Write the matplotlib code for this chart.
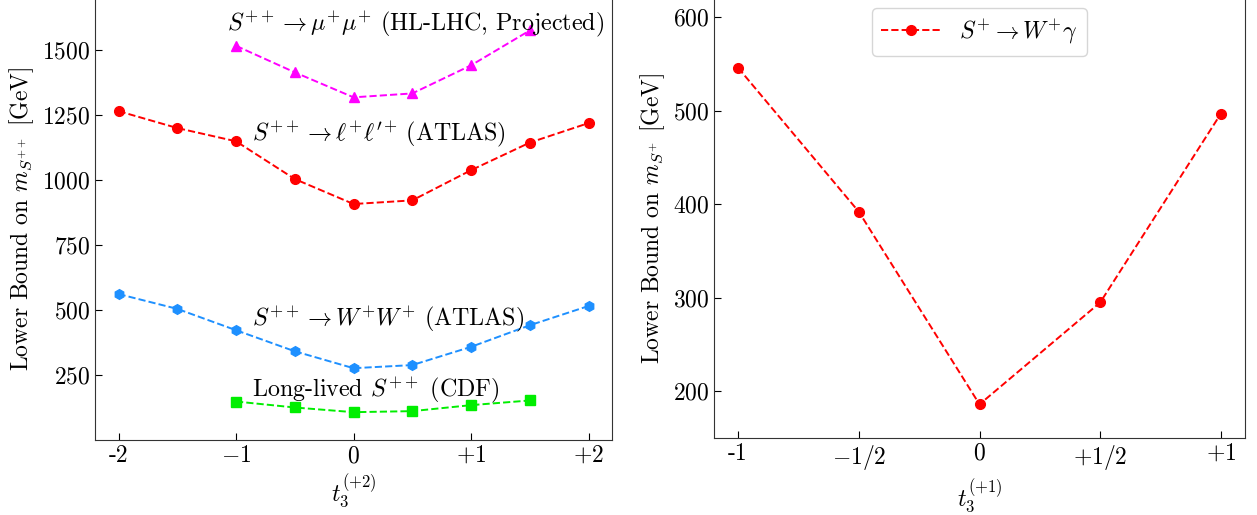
import matplotlib
matplotlib.use("Agg")
import matplotlib.pyplot as plt

plt.rcParams['font.family'] = ['cmr10']
plt.rcParams['mathtext.fontset'] = 'cm'
plt.rcParams['axes.formatter.use_mathtext'] = True
plt.rcParams['axes.unicode_minus'] = False

# ---- Left panel data: t3 = +2 ----
t_mumu = [-1, -0.5, 0, 0.5, 1, 1.5]
m_mumu = [1515, 1413, 1317, 1332, 1440, 1574]

t_ll = [-2, -1.5, -1, -0.5, 0, 0.5, 1, 1.5, 2]
m_ll = [1264, 1199, 1148, 1003, 907, 921, 1037, 1143, 1218]

t_ww = [-2, -1.5, -1, -0.5, 0, 0.5, 1, 1.5, 2]
m_ww = [561, 504, 422, 341, 276, 288, 358, 441, 515]

t_cdf = [-1, -0.5, 0, 0.5, 1, 1.5]
m_cdf = [148, 125, 107, 111, 134, 152]

left_xticks = [-2, -1, 0, 1, 2]
left_xticklabels = ['-2', r'$-1$', r'$0$', r'$+1$', r'$+2$']
left_yticks = [250, 500, 750, 1000, 1250, 1500]

# ---- Right panel data: t3 = +1 ----
t_wg = [-1, -0.5, 0, 0.5, 1]
m_wg = [546, 392, 186, 295, 497]

right_xticks = [-1, -0.5, 0, 0.5, 1]
right_xticklabels = ['-1', r'$-1/2$', r'$0$', r'$+1/2$', r'$+1$']
right_yticks = [200, 300, 400, 500, 600]

FS = 17
FS_TXT = 17.3

fig = plt.figure(figsize=(12.57, 5.15), dpi=100)
ax1 = fig.add_axes([0.0756, 0.1456, 0.4113, 0.8589])
ax2 = fig.add_axes([0.568, 0.1495, 0.4225, 0.8532])

lw = 1.4
ax1.plot(t_mumu, m_mumu, ls='--', color='magenta', marker='^', ms=7, lw=lw)
ax1.plot(t_ll, m_ll, ls='--', color='red', marker='o', ms=7, lw=lw)
ax1.plot(t_ww, m_ww, ls='--', color='dodgerblue', marker='h', ms=7, lw=lw)
ax1.plot(t_cdf, m_cdf, ls='--', color='#00ee00', marker='s', ms=7, lw=lw)

ax1.text(-1.08, 1596, r'$S^{++}\to\mu^{+}\mu^{+}$ (HL-LHC, Projected)', fontsize=FS_TXT, va='center', ha='left')
ax1.text(-0.86, 1171, r"$S^{++}\to\ell^{+}\ell'^{+}$ (ATLAS)", fontsize=FS_TXT, va='center', ha='left')
ax1.text(-0.86, 460, r'$S^{++}\to W^{+}W^{+}$ (ATLAS)', fontsize=FS_TXT, va='center', ha='left')
ax1.text(-0.86, 188, r'Long-lived $S^{++}$ (CDF)', fontsize=FS_TXT, va='center', ha='left')

ax1.set_xlim(-2.2, 2.2)
ax1.set_ylim(0, 1700)
ax1.set_xticks(left_xticks)
ax1.set_xticklabels(left_xticklabels)
ax1.set_yticks(left_yticks)
ax1.set_xlabel(r'$t_3^{(+2)}$', fontsize=FS)
ax1.set_ylabel(r'Lower Bound on $m_{S^{++}}$ [GeV]', fontsize=FS)

ax2.plot(t_wg, m_wg, ls='--', color='red', marker='o', ms=7, lw=lw, label=r'$S^{+}\to W^{+}\gamma$')
ax2.set_xlim(-1.1, 1.1)
ax2.set_ylim(150, 620)
ax2.set_xticks(right_xticks)
ax2.set_xticklabels(right_xticklabels)
ax2.set_yticks(right_yticks)
ax2.set_xlabel(r'$t_3^{(+1)}$', fontsize=FS)
ax2.set_ylabel(r'Lower Bound on $m_{S^{+}}$ [GeV]', fontsize=FS)
ax2.legend(loc='upper center', fontsize=FS, bbox_to_anchor=(0.5, 1.006), handlelength=2.5)

for ax in (ax1, ax2):
    ax.tick_params(direction='in', labelsize=FS, length=5, top=False, right=False)
    for s in ax.spines.values():
        s.set_color('#333333')

fig.savefig('out.png', dpi=100)
